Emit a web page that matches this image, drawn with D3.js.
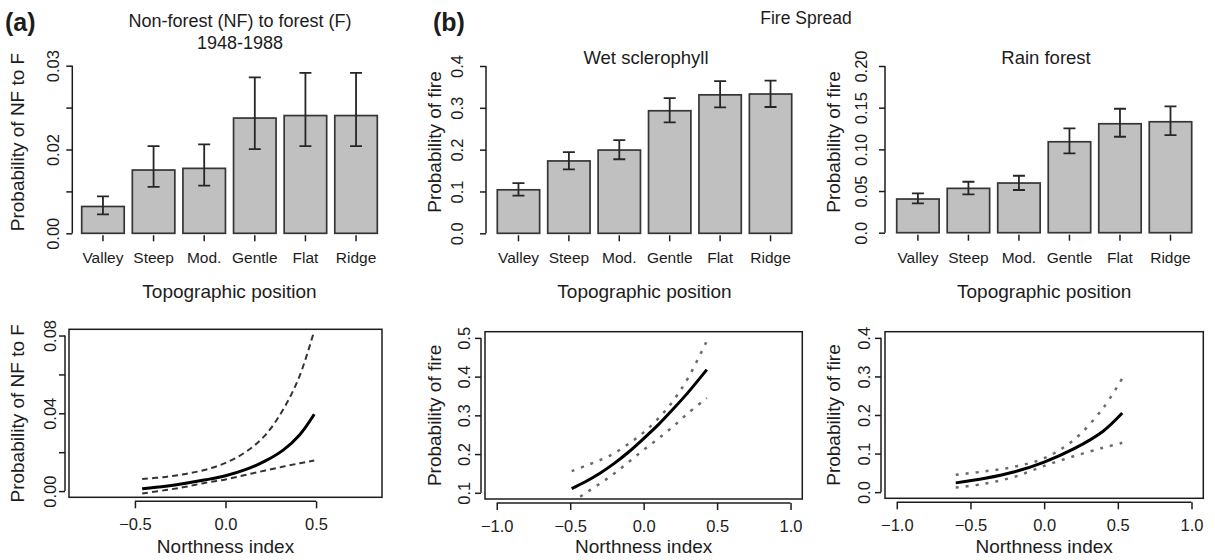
<!DOCTYPE html>
<html>
<head>
<meta charset="utf-8">
<script src="https://cdn.jsdelivr.net/npm/d3@7"></script>
<style>
  body { margin: 0; background: #fff; }
</style>
</head>
<body>
<div id="chart"></div>
<script>
// topographic position classes (x axis of the bar charts)
const positions = ['Valley', 'Steep', 'Mod.', 'Gentle', 'Flat', 'Ridge'];

// (a) non-forest to forest 1948-1988: bar heights and error bar ends
const nfMean = [0.0064, 0.0151, 0.0155, 0.0275, 0.0281, 0.0281];
const nfLower = [0.0045, 0.0111, 0.0114, 0.0201, 0.0208, 0.0208];
const nfUpper = [0.0088, 0.0208, 0.0212, 0.0372, 0.0383, 0.0383];

// (b) fire spread, wet sclerophyll
const wetMean = [0.104, 0.173, 0.199, 0.293, 0.331, 0.333];
const wetLower = [0.090, 0.153, 0.177, 0.265, 0.301, 0.302];
const wetUpper = [0.120, 0.194, 0.223, 0.323, 0.364, 0.365];

// (b) fire spread, rain forest
const rainMean = [0.0404, 0.0532, 0.0596, 0.1091, 0.1307, 0.1331];
const rainLower = [0.0352, 0.0460, 0.0512, 0.0952, 0.1151, 0.1171];
const rainUpper = [0.0472, 0.0611, 0.0683, 0.1252, 0.1487, 0.1515];

// bar chart y ticks and their printed labels
const nfBarTicks = [0, 0.01, 0.02, 0.03, 0.04];
const nfBarLabels = ['0.00', '', '0.02', '', '0.03'];
const wetBarTicks = [0, 0.1, 0.2, 0.3, 0.4];
const wetBarLabels = ['0.0', '0.1', '0.2', '0.3', '0.4'];
const rainBarTicks = [0, 0.05, 0.1, 0.15, 0.2];
const rainBarLabels = ['0.0', '0.05', '0.10', '0.15', '0.20'];

// northness response curves: x, fitted probability and interval bounds
const nfNorth = [-0.46, -0.33, -0.22, -0.11, 0, 0.11, 0.22, 0.32, 0.41, 0.49];
const nfFit = [0.0012, 0.0025, 0.0040, 0.0058, 0.0079, 0.0110, 0.0155, 0.0212, 0.0290, 0.0395];
const nfFitLow = [-0.0012, 0.0005, 0.0022, 0.0043, 0.0060, 0.0083, 0.0106, 0.0126, 0.0143, 0.0157];
const nfFitHigh = [0.0062, 0.0073, 0.0088, 0.0110, 0.0145, 0.0200, 0.0288, 0.0422, 0.0594, 0.0825];

const wetNorth = [-0.49, -0.4, -0.3, -0.2, -0.1, 0, 0.1, 0.2, 0.3, 0.43];
const wetFit = [0.111, 0.128, 0.150, 0.176, 0.206, 0.240, 0.276, 0.316, 0.358, 0.418];
const wetFitLow = [0.076, 0.098, 0.123, 0.150, 0.180, 0.211, 0.240, 0.271, 0.305, 0.345];
const wetFitHigh = [0.156, 0.169, 0.184, 0.202, 0.227, 0.256, 0.292, 0.337, 0.395, 0.492];

const rainNorth = [-0.6, -0.4, -0.2, 0, 0.2, 0.4, 0.53];
const rainFit = [0.024, 0.036, 0.053, 0.078, 0.112, 0.158, 0.205];
const rainFitLow = [0.012, 0.022, 0.040, 0.068, 0.093, 0.115, 0.128];
const rainFitHigh = [0.045, 0.054, 0.066, 0.088, 0.135, 0.218, 0.295];

// curve panel ticks and labels
const nfCurveTicks = [0, 0.02, 0.04, 0.06, 0.08];
const nfCurveLabels = ['0.00', '', '0.04', '', '0.08'];
const nfNorthTicks = [-0.5, 0, 0.5];
const nfNorthLabels = ['\u22120.5', '0.0', '0.5'];
const wetCurveTicks = [0.1, 0.2, 0.3, 0.4, 0.5];
const wetCurveLabels = ['0.1', '0.2', '0.3', '0.4', '0.5'];
const rainCurveTicks = [0, 0.1, 0.2, 0.3, 0.4];
const rainCurveLabels = ['0.0', '0.1', '0.2', '0.3', '0.4'];
const northTicks = [-1, -0.5, 0, 0.5, 1];
const northLabels = ['\u22121.0', '\u22120.5', '0.0', '0.5', '1.0'];

const ink = '#1c1c1c';
const svg = d3.select('#chart').append('svg')
  .attr('width', 1215)
  .attr('height', 560)
  .style('font-family', '"Liberation Sans", Arial, Helvetica, sans-serif');

// strip the d3 defaults so the axes look like base R ones
function styleAxis(g, size) {
  g.select('.domain').remove();
  g.attr('font-family', null).attr('font-size', null);
  g.selectAll('line').attr('stroke', ink).attr('stroke-width', 1.5);
  g.selectAll('text').attr('fill', ink).style('font-size', size + 'px');
}

function text(str, x, y, size, opts = {}) {
  const t = svg.append('text')
    .attr('x', x).attr('y', y)
    .attr('text-anchor', opts.anchor || 'middle')
    .attr('fill', ink)
    .style('font-size', size + 'px')
    .text(str);
  if (opts.bold) t.style('font-weight', 'bold');
  if (opts.rotate) t.attr('transform', `rotate(-90 ${x} ${y})`);
  return t;
}

// y axis with rotated labels, axis line running first to last tick
function leftAxis(g, y, ticks, labels, axisX, labelX) {
  const ax = g.append('g')
    .attr('transform', `translate(${axisX},0)`)
    .call(d3.axisLeft(y).tickValues(ticks).tickFormat((d, i) => labels[i]).tickSize(6));
  styleAxis(ax, 16.5);
  ax.append('line')
    .attr('y1', y(ticks[0])).attr('y2', y(ticks[ticks.length - 1]))
    .attr('stroke', ink).attr('stroke-width', 1.5);
  ax.selectAll('.tick text')
    .attr('transform', 'rotate(-90)')
    .attr('x', 0).attr('dy', 0)
    .attr('y', -(axisX - labelX))
    .attr('text-anchor', 'middle');
}

function drawBars(o) {
  const x = d3.scaleBand().domain(positions).range([o.x0, o.x1]).paddingInner(0.16);
  const y = d3.scaleLinear().domain([o.yTicks[0], o.yTicks[o.yTicks.length - 1]]).range([o.y0, o.y1]);
  const rows = positions.map((p, i) => ({ p, m: o.mean[i], lo: o.lower[i], hi: o.upper[i] }));
  const g = svg.append('g');

  g.selectAll('.bar')
    .data(rows)
    .join('rect')
      .attr('class', 'bar')
      .attr('x', d => x(d.p))
      .attr('y', d => y(d.m))
      .attr('width', x.bandwidth())
      .attr('height', d => y(0) - y(d.m))
      .attr('fill', '#c0c0c0')
      .attr('stroke', '#353535')
      .attr('stroke-width', 1.7);

  const cx = d => x(d.p) + x.bandwidth() / 2;
  g.selectAll('.err')
    .data(rows)
    .join('path')
      .attr('class', 'err')
      .attr('d', d => `M${cx(d) - 6},${y(d.hi)}H${cx(d) + 6}M${cx(d)},${y(d.hi)}V${y(d.lo)}M${cx(d) - 6},${y(d.lo)}H${cx(d) + 6}`)
      .attr('fill', 'none')
      .attr('stroke', '#262626')
      .attr('stroke-width', 1.8);

  leftAxis(g, y, o.yTicks, o.yLabels, o.axisX, o.labelX);

  // category ticks under the bars, no axis line
  const xa = g.append('g')
    .attr('transform', `translate(0,${o.y0 + 2})`)
    .call(d3.axisBottom(x).tickSize(6).tickSizeOuter(0));
  styleAxis(xa, 15.5);
  xa.selectAll('.tick text').attr('y', 28).attr('dy', 0);

  const mid = (o.x0 + o.x1) / 2;
  text('Topographic position', mid, 298, 19);
  text(o.yTitle, o.titleX, 142, 19, { rotate: true });
}

function drawCurves(o) {
  const x = d3.scaleLinear().domain(o.xDomain).range([o.left, o.right]);
  const y = d3.scaleLinear().domain(o.yDomain).range([o.bottom, o.top]);
  const g = svg.append('g');

  const clipId = 'clip-' + o.id;
  svg.append('clipPath').attr('id', clipId)
    .append('rect')
      .attr('x', o.left).attr('y', o.top)
      .attr('width', o.right - o.left).attr('height', o.bottom - o.top);

  const line = d3.line()
    .x(d => x(d[0]))
    .y(d => y(d[1]))
    .curve(d3.curveCatmullRom.alpha(0.5));
  const pairs = vals => o.north.map((v, i) => [v, vals[i]]);

  const plot = g.append('g').attr('clip-path', `url(#${clipId})`);
  [o.low, o.high].forEach(vals => {
    plot.append('path')
      .datum(pairs(vals))
      .attr('d', line)
      .attr('fill', 'none')
      .attr('stroke', o.bandColor)
      .attr('stroke-width', o.bandWidth)
      .attr('stroke-dasharray', o.dash);
  });
  plot.append('path')
    .datum(pairs(o.fit))
    .attr('d', line)
    .attr('fill', 'none')
    .attr('stroke', '#000')
    .attr('stroke-width', 3);

  g.append('rect')
    .attr('x', o.left).attr('y', o.top)
    .attr('width', o.right - o.left).attr('height', o.bottom - o.top)
    .attr('fill', 'none')
    .attr('stroke', ink)
    .attr('stroke-width', 1.5);

  // axes sit just outside the box
  const xa = g.append('g')
    .attr('transform', `translate(0,${o.bottom + 4})`)
    .call(d3.axisBottom(x).tickValues(o.xTicks).tickFormat((d, i) => o.xLabels[i]).tickSize(7));
  styleAxis(xa, 16.5);
  xa.append('line')
    .attr('x1', x(o.xTicks[0])).attr('x2', x(o.xTicks[o.xTicks.length - 1]))
    .attr('stroke', ink).attr('stroke-width', 1.5);
  xa.selectAll('.tick text').attr('y', 29).attr('dy', 0);

  leftAxis(g, y, o.yTicks, o.yLabels, o.left - 4, o.labelX);

  text('Northness index', (o.left + o.right) / 2, 553, 19);
  text(o.yTitle, o.titleX, (o.top + o.bottom) / 2, 19, { rotate: true });
}

// ---- panel (a)
text('(a)', 5, 31, 25, { anchor: 'start', bold: true });
text('Non-forest (NF) to forest (F)', 240, 27, 18);
text('1948-1988', 240, 49, 18);

drawBars({
  mean: nfMean, lower: nfLower, upper: nfUpper,
  yTicks: nfBarTicks, yLabels: nfBarLabels,
  x0: 81.7, x1: 377.3, y0: 233.3, y1: 65.7,
  axisX: 72.3, labelX: 59, titleX: 24,
  yTitle: 'Probability of NF to F'
});

drawCurves({
  id: 'nf', north: nfNorth, fit: nfFit, low: nfFitLow, high: nfFitHigh,
  xDomain: [-0.864, 0.864], yDomain: [-0.0032, 0.0832],
  xTicks: nfNorthTicks, xLabels: nfNorthLabels,
  yTicks: nfCurveTicks, yLabels: nfCurveLabels,
  left: 69, right: 382, top: 329.3, bottom: 497.3,
  labelX: 56, titleX: 24,
  bandColor: '#333', bandWidth: 2, dash: '6,4',
  yTitle: 'Probability of NF to F'
});

// ---- panel (b)
text('(b)', 433, 31, 25, { anchor: 'start', bold: true });
text('Fire Spread', 806, 24, 17.5);
text('Wet sclerophyll', 646, 64, 18.5);
text('Rain forest', 1046, 64, 18.5);

drawBars({
  mean: wetMean, lower: wetLower, upper: wetUpper,
  yTicks: wetBarTicks, yLabels: wetBarLabels,
  x0: 497.3, x1: 791.7, y0: 233.3, y1: 66,
  axisX: 486, labelX: 463, titleX: 441,
  yTitle: 'Probability of fire'
});

drawBars({
  mean: rainMean, lower: rainLower, upper: rainUpper,
  yTicks: rainBarTicks, yLabels: rainBarLabels,
  x0: 896.7, x1: 1191.7, y0: 232.7, y1: 66,
  axisX: 885, labelX: 867, titleX: 840,
  yTitle: 'Probability of fire'
});

drawCurves({
  id: 'wet', north: wetNorth, fit: wetFit, low: wetFitLow, high: wetFitHigh,
  xDomain: [-1.08, 1.08], yDomain: [0.084, 0.516],
  xTicks: northTicks, xLabels: northLabels,
  yTicks: wetCurveTicks, yLabels: wetCurveLabels,
  left: 485, right: 802.3, top: 331.7, bottom: 499,
  labelX: 470, titleX: 441,
  bandColor: '#6a6a6a', bandWidth: 2.5, dash: '3,7',
  yTitle: 'Probability of fire'
});

drawCurves({
  id: 'rain', north: rainNorth, fit: rainFit, low: rainFitLow, high: rainFitHigh,
  xDomain: [-1.08, 1.08], yDomain: [-0.016, 0.416],
  xTicks: northTicks, xLabels: northLabels,
  yTicks: rainCurveTicks, yLabels: rainCurveLabels,
  left: 885, right: 1203.3, top: 331.7, bottom: 498.3,
  labelX: 870, titleX: 840,
  bandColor: '#6a6a6a', bandWidth: 2.5, dash: '3,7',
  yTitle: 'Probability of fire'
});
</script>
</body>
</html>
